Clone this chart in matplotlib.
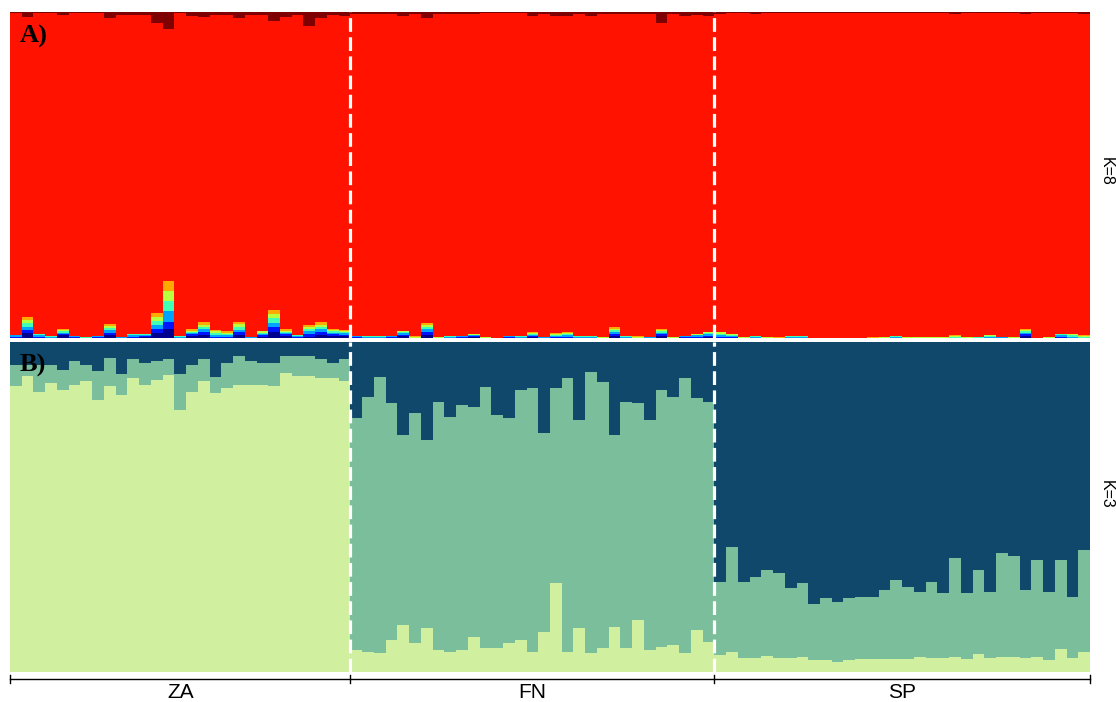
import numpy as np
import matplotlib
matplotlib.use('Agg')
import matplotlib.pyplot as plt

# populations and number of individuals in each
pops = ['ZA', 'FN', 'SP']
pop_sizes = [29, 31, 32]

# K=8 membership coefficients (ZA, FN, SP individuals in order)
k8_navy = [0, .014, 0, 0, .008, 0, 0, 0, .008, 0, 0, .003, .015, .027, 0, .006, .010, 0, 0, .010, 0, .004, .018, .006, 0, .004, .010, .006, .005,
           0, 0, 0, 0, .005, 0, .010, 0, 0, 0, .003, 0, 0, 0, 0, .004, 0, 0, 0, 0, 0, 0, .007, 0, 0, 0, .007, 0, 0, 0, .003,
           0, 0, 0, 0, 0, 0, 0, 0, 0, 0, 0, 0, 0, 0, 0, 0, 0, 0, 0, 0, 0, 0, 0, 0, 0, 0, .006, 0, 0, 0, 0, 0]
k8_blue = [.003, .010, .004, 0, .004, .002, 0, .002, .008, 0, .004, .003, .013, .021, 0, .005, .009, .003, .004, .008, 0, .004, .015, .005, .003, .008, .009, .005, .005,
           .002, 0, 0, .002, .005, 0, .009, 0, 0, .002, .003, 0, 0, .002, 0, .003, 0, .003, .004, 0, 0, 0, .006, 0, 0, 0, .005, 0, .002, .004, .004,
           .004, .003, 0, 0, 0, 0, 0, 0, 0, 0, 0, 0, 0, 0, 0, 0, 0, 0, 0, 0, 0, 0, 0, 0, 0, 0, .005, 0, 0, .004, 0, 0]
k8_sky = [.005, .011, .005, .004, .004, .003, 0, .003, .008, .002, .004, .003, .013, .036, .004, .004, .008, .006, .004, .008, .002, .004, .014, .004, .003, .008, .008, .005, .004,
          .003, .003, .002, .003, .004, 0, .008, 0, .003, .003, .002, 0, 0, .003, .003, .003, .003, .004, .004, .004, .004, 0, .006, .004, 0, .003, .004, 0, .003, .004, .004,
          .005, .003, 0, .003, 0, 0, .004, .004, 0, 0, 0, 0, 0, 0, 0, .003, 0, 0, 0, 0, 0, 0, 0, .003, .003, 0, .005, 0, 0, .004, .004, 0]
k8_aqua = [0, .010, .003, .003, .004, .002, .002, .002, .007, .002, .004, .003, .012, .030, .003, .004, .007, .006, .004, .008, .002, .004, .014, .004, .003, .007, .007, .004, .004,
           .002, .004, .003, .002, .003, 0, .007, 0, .004, .002, .002, 0, 0, .002, .002, .003, 0, .003, .004, .003, .003, 0, .005, .003, 0, 0, .004, 0, .002, .002, .003,
           .004, .003, 0, .002, 0, 0, .003, .003, 0, 0, 0, 0, 0, 0, 0, .002, 0, 0, 0, 0, .003, 0, .003, .003, 0, 0, .004, 0, 0, .004, .004, .003]
k8_lime = [0, .009, 0, 0, .004, 0, .002, 0, .006, 0, 0, 0, .012, .030, 0, .004, .007, .005, .004, .008, 0, .004, .013, .004, 0, .007, .007, .004, .004,
           0, 0, 0, 0, .003, .002, .006, .003, 0, 0, .002, .003, 0, 0, 0, .002, 0, .003, .003, 0, 0, .003, .005, 0, .003, 0, .004, .003, 0, .002, .003,
           .004, .002, .003, .002, .003, 0, 0, 0, 0, 0, 0, 0, 0, 0, .003, .002, .003, .003, .003, .003, .003, .003, 0, .002, 0, .003, .004, 0, .003, 0, .004, .003]
k8_orange = [0, .010, 0, 0, .004, 0, 0, 0, .007, 0, 0, 0, .012, .030, 0, .004, .008, .005, .004, .007, 0, 0, .013, .004, 0, .007, .008, .004, .003,
             0, 0, 0, 0, .003, .003, .006, 0, 0, 0, 0, 0, 0, 0, 0, .002, 0, .003, .003, 0, 0, 0, .004, 0, .002, 0, .004, 0, 0, 0, 0,
             0, 0, 0, 0, 0, .002, 0, 0, 0, 0, 0, 0, 0, .002, 0, 0, 0, 0, 0, 0, .002, 0, 0, 0, 0, 0, .004, 0, 0, 0, 0, .002]
k8_red = [.988, .921, .984, .989, .963, .989, .992, .989, .938, .987, .979, .979, .888, .773, .989, .961, .937, .966, .971, .933, .987, .971, .886, .958, .982, .916, .933, .963, .963,
          .986, .986, .988, .986, .965, .988, .937, .990, .986, .986, .981, .993, .996, .989, .991, .971, .990, .972, .970, .986, .981, .990, .960, .986, .988, .990, .939, .990, .981, .979, .971,
          .976, .986, .994, .986, .994, .995, .990, .990, .997, .997, .997, .997, .997, .995, .994, .990, .994, .994, .994, .994, .985, .994, .994, .989, .994, .994, .965, .997, .994, .985, .985, .985]
k8_maroon = [.004, .015, .004, .004, .009, .004, .004, .004, .018, .009, .009, .009, .035, .053, .004, .012, .014, .009, .009, .018, .009, .009, .027, .015, .009, .043, .018, .009, .012,
             .007, .007, .007, .007, .012, .007, .017, .007, .007, .007, .007, .004, .004, .004, .004, .012, .007, .012, .012, .007, .012, .007, .007, .007, .007, .007, .033, .007, .012, .009, .012,
             .007, .003, .003, .007, .003, .003, .003, .003, .003, .003, .003, .003, .003, .003, .003, .003, .003, .003, .003, .003, .007, .003, .003, .003, .003, .003, .007, .003, .003, .003, .003, .007]

# K=3 membership coefficients
k3_light = [.866, .896, .850, .876, .856, .871, .881, .825, .866, .840, .891, .871, .886, .901, .795, .850, .881, .845, .861, .871, .871, .871, .866, .906, .896, .896, .891, .891, .881,
            .067, .062, .057, .097, .142, .087, .132, .067, .062, .067, .107, .072, .072, .087, .097, .062, .122, .269, .062, .132, .057, .072, .137, .072, .158, .067, .077, .082, .057, .127, .092,
            .052, .060, .041, .041, .050, .041, .041, .044, .036, .036, .031, .036, .039, .039, .039, .039, .039, .044, .041, .041, .044, .039, .055, .041, .044, .044, .041, .044, .036, .070, .041, .060]
k3_mid = [.065, .035, .081, .055, .060, .070, .050, .086, .086, .063, .056, .065, .055, .046, .108, .081, .066, .048, .075, .086, .070, .065, .070, .051, .061, .061, .056, .045, .066,
          .702, .772, .838, .717, .576, .697, .571, .752, .712, .742, .697, .793, .707, .682, .758, .798, .601, .591, .828, .632, .853, .808, .581, .747, .656, .697, .778, .752, .833, .702, .727,
          .222, .318, .233, .248, .259, .258, .213, .225, .169, .187, .182, .187, .189, .189, .209, .240, .220, .199, .233, .197, .300, .199, .254, .202, .316, .308, .207, .295, .207, .269, .187, .310]
k3_dark = [.069, .069, .069, .069, .084, .059, .069, .089, .048, .097, .053, .064, .059, .053, .097, .069, .053, .107, .064, .043, .059, .064, .064, .043, .043, .043, .053, .064, .053,
           .231, .166, .105, .186, .282, .216, .297, .181, .226, .191, .196, .135, .221, .231, .145, .140, .277, .140, .110, .236, .090, .120, .282, .181, .186, .236, .145, .166, .110, .171, .181,
           .726, .622, .726, .711, .691, .701, .746, .731, .795, .777, .787, .777, .772, .772, .752, .721, .741, .757, .726, .762, .656, .762, .691, .757, .640, .648, .752, .661, .757, .661, .772, .630]

k8_colors = ['#00008f', '#0014ff', '#00a2ff', '#42ffb6', '#b8ff40', '#ffaa00', '#ff1200', '#7f0000']
k3_colors = ['#d0ef9f', '#7bbe9b', '#0f486b']

n = sum(pop_sizes)
x = np.arange(n)
bounds = np.cumsum(pop_sizes)[:-1] - 0.5


def stacked(ax, layers, colors):
    bottom = np.zeros(n)
    for vals, col in zip(layers, colors):
        vals = np.asarray(vals)
        ax.bar(x, vals, width=1.0, bottom=bottom, color=col,
               linewidth=0, antialiased=False)
        bottom += vals
    for b in bounds:
        ax.axvline(b, color='white', lw=2.3, ls=(0, (4.3, 1.7)))
    ax.set_xlim(-0.5, n - 0.5)
    ax.set_ylim(0, 1)
    ax.axis('off')


W, H = 1116, 702
fig = plt.figure(figsize=(W / 100, H / 100), dpi=100)
left, right = 10 / W, 1090 / W

ax_a = fig.add_axes([left, 1 - 338 / H, right - left, 326 / H])
stacked(ax_a, [k8_navy, k8_blue, k8_sky, k8_aqua, k8_lime, k8_orange, k8_red, k8_maroon], k8_colors)

ax_b = fig.add_axes([left, 1 - 672 / H, right - left, 330 / H])
stacked(ax_b, [k3_light, k3_mid, k3_dark], k3_colors)

# population axis under the bars
ax_c = fig.add_axes([left, 0, right - left, 30 / H])
ax_c.set_xlim(-0.5, n - 0.5)
ax_c.set_ylim(0, 30)
ax_c.axis('off')
ax_c.plot([-0.5, n - 0.5], [23, 23], color='black', lw=1.0, clip_on=False)
edges = np.concatenate([[-0.5], bounds, [n - 0.5]])
for e in edges:
    ax_c.plot([e, e], [19, 27], color='black', lw=1.0, clip_on=False)
for i, name in enumerate(pops):
    ax_c.text((edges[i] + edges[i + 1]) / 2, 10, name, ha='center', va='center',
              fontsize=15, family='Liberation Sans')

fig.text(1106 / W, 1 - 171 / H, 'K=8', rotation=270, ha='center', va='center',
         fontsize=11.5, family='Liberation Sans')
fig.text(1106 / W, 1 - 494 / H, 'K=3', rotation=270, ha='center', va='center',
         fontsize=11.5, family='Liberation Sans')

fig.text(20 / W, 1 - 43 / H, 'A)', fontsize=19, fontweight='bold',
         family='Liberation Serif', va='baseline')
fig.text(20 / W, 1 - 372 / H, 'B)', fontsize=19, fontweight='bold',
         family='Liberation Serif', va='baseline')

fig.savefig('out.png', dpi=100)
